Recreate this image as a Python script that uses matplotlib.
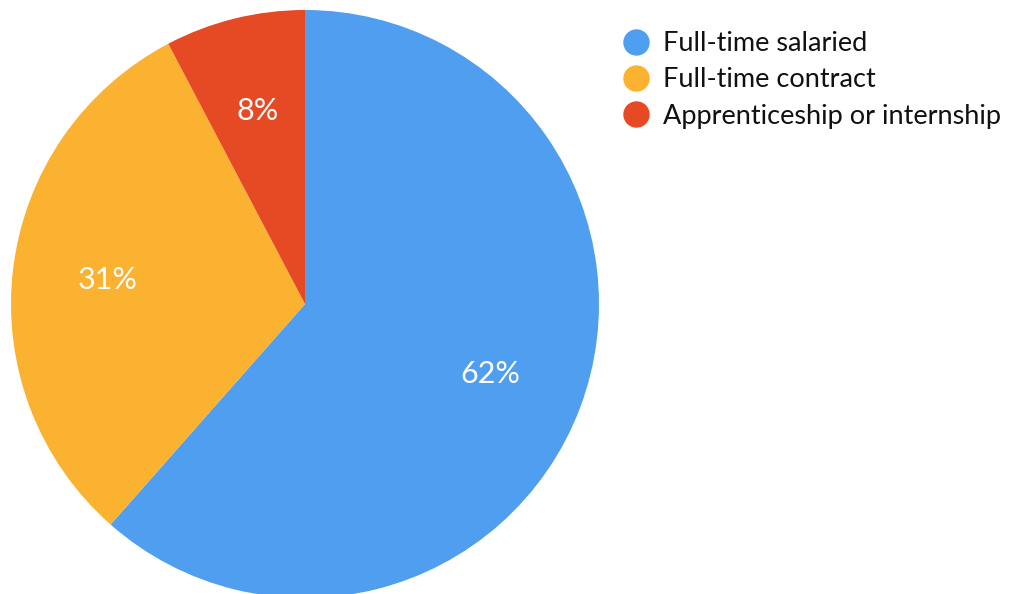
import matplotlib
matplotlib.use("Agg")
import matplotlib.pyplot as plt
from matplotlib.lines import Line2D

labels = ["Full-time salaried", "Full-time contract", "Apprenticeship or internship"]
shares = [61.5, 30.8, 7.7]
pct_labels = ["62%", "31%", "8%"]
colors = ["#509EEF", "#FBB231", "#E54A24"]

plt.rcParams['font.family'] = ['Lato', 'DejaVu Sans']

W, H = 1022, 594
fig = plt.figure(figsize=(W / 100, H / 100), dpi=100)
cx, cy, r = 305, 304, 294
ax = fig.add_axes([(cx - r) / W, (H - cy - r) / H, 2 * r / W, 2 * r / H])

wedges, texts, autotexts = ax.pie(shares, colors=colors, startangle=90, counterclock=False,
                                  autopct=lambda p: "", pctdistance=0.675, radius=1,
                                  wedgeprops=dict(linewidth=0))
for t, s in zip(autotexts, pct_labels):
    t.set_text(s)
    t.set_color("white")
    t.set_fontsize(22)
ax.set_xlim(-1, 1)
ax.set_ylim(-1, 1)
ax.axis("off")

handles = [Line2D([], [], marker="o", linestyle="", markersize=18,
                  markerfacecolor=c, markeredgecolor=c) for c in colors]
fig.legend(handles, labels, loc="upper left", bbox_to_anchor=(620 / W, 1 - 31 / H),
           frameon=False, fontsize=19.5, handletextpad=0.38, labelspacing=0.42,
           borderaxespad=0, borderpad=0, handlelength=1.2, labelcolor="#111111")

fig.savefig("out.png", dpi=100)
